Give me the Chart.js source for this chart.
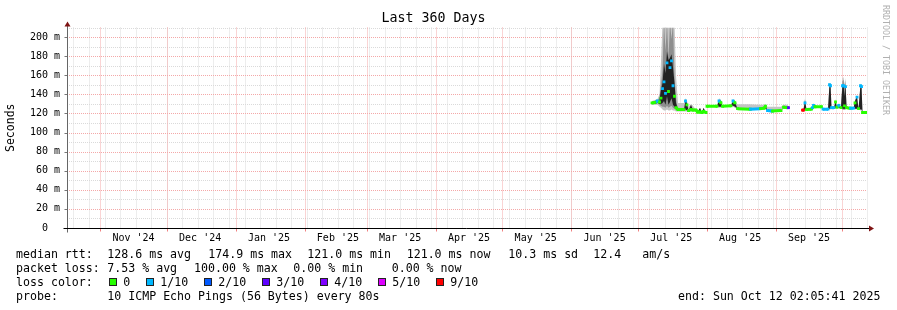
<!DOCTYPE html>
<html>
<head>
<meta charset="utf-8">
<title>Last 360 Days</title>
<script src="https://cdn.jsdelivr.net/npm/chart.js@4.4.1/dist/chart.umd.min.js"></script>
<style>
  html, body { margin: 0; padding: 0; background: #fff; }
  #wrap { position: relative; width: 897px; height: 310px; overflow: hidden;
          font-family: "DejaVu Sans Mono", monospace; color: #000; }
  #chart { position: absolute; left: 0; top: 0; }
  .t { position: absolute; font-size: 11.6px; line-height: 14px; white-space: pre; }
  .box { position: absolute; top: 278px; width: 8px; height: 8px; box-sizing: border-box; border: 1px solid #222; }
  #credit { position: absolute; left: 880px; top: 5px; writing-mode: vertical-rl;
            font-size: 8.3px; line-height: 12px; color: #b0b0b0; white-space: pre; }
</style>
</head>
<body>
<div id="wrap">
  <canvas id="chart" width="897" height="310"></canvas>
  <div id="credit">RRDTOOL / TOBI OETIKER</div>

  <div class="t" style="left:16px;top:247px">median rtt:</div>
  <div class="t" style="left:107.3px;top:247px">128.6 ms avg</div>
  <div class="t" style="left:208.3px;top:247px">174.9 ms max</div>
  <div class="t" style="left:307.3px;top:247px">121.0 ms min</div>
  <div class="t" style="left:406.7px;top:247px">121.0 ms now</div>
  <div class="t" style="left:508.3px;top:247px">10.3 ms sd</div>
  <div class="t" style="left:593.3px;top:247px">12.4</div>
  <div class="t" style="left:642.3px;top:247px">am/s</div>

  <div class="t" style="left:16px;top:261px">packet loss:</div>
  <div class="t" style="left:107.3px;top:261px">7.53 % avg</div>
  <div class="t" style="left:194px;top:261px">100.00 % max</div>
  <div class="t" style="left:293.3px;top:261px">0.00 % min</div>
  <div class="t" style="left:391.7px;top:261px">0.00 % now</div>

  <div class="t" style="left:16px;top:275px">loss color:</div>
  <div id="lossLegend"></div>

  <div class="t" style="left:16px;top:289px">probe:</div>
  <div class="t" style="left:107.3px;top:289px">10 ICMP Echo Pings (56 Bytes) every 80s</div>
  <div class="t" style="left:678px;top:289px">end: Sun Oct 12 02:05:41 2025</div>
</div>

<script>
// x = days since the start of the 360 day window
const days = [
  263.25, 264.6, 265.73, 266.63, 267.3, 267.98, 268.65, 269.33, 270.0, 270.68,
  271.35, 272.03, 272.7, 273.38, 274.05, 274.95, 277.65, 278.33, 279.0, 279.68,
  280.8, 281.7, 283.05, 283.73, 284.85, 285.75, 286.43, 287.55, 288.0, 292.5,
  293.4, 294.3, 294.98, 298.8, 299.7, 300.6, 301.73, 307.35, 307.58, 311.85,
  312.08, 313.65, 314.33, 315.23, 317.25, 317.48, 321.3, 322.43, 324.23, 324.68,
  327.6, 330.98, 331.43, 332.1, 332.78, 335.03, 335.48, 335.93, 336.6, 339.53,
  340.2, 342.45, 343.13, 343.58, 344.03, 345.15, 345.83, 346.5, 347.4, 348.3,
  348.98, 349.43, 349.88, 350.33, 350.78, 352.35, 352.58, 353.93, 354.6, 355.5,
  356.18, 357.08, 357.53, 357.98, 360.0
];

// median rtt in ms
const medianMs = [
  131, 131.5, 133, 132, 136, 146, 153, 141, 173, 143,
  168, 175, 149, 138, 126, 124, 124, 133, 129, 123,
  124, 123.5, 123.5, 121.5, 121.5, 121, 122, 121, 127.5, 127.5,
  133, 131, 127.5, 128, 133, 131, 125, 124.5, 124.5, 125,
  125, 125.5, 127.5, 123, 122.5, 122.5, 123, 126.5, 126, 126,
  null, 123.5, 123.5, 131, 124, 124.5, 126, 128.5, 127, 127,
  124.5, 124.5, 150, 149, 126, 126, 132, 126.5, 128.5, 126,
  149, 149, 128, 148, 126, 125.5, 125.5, 125.5, 131, 137,
  125, 149, 148, 121, 121
];

// lost pings out of 10
const lossLevel = [
  0, 0, 1, 0, 0, 1, 1, 1, 1, 0,
  1, 1, 1, 0, 0, 0, 0, 1, 0, 0,
  0, 0, 0, 0, 0, 0, 0, 0, 0, 0,
  1, 0, 0, 0, 1, 0, 0, 0, 1, 1,
  0, 0, 0, 1, 1, 0, 0, 0, 0, 3,
  null, 9, 9, 1, 0, 0, 1, 1, 0, 0,
  1, 1, 1, 1, 1, 1, 0, 0, 1, 0,
  1, 1, 0, 1, 0, 0, 1, 1, 0, 1,
  0, 1, 1, 0, 0
];

// smoke bands (ms), null = no spread around the median
const smokeInnerLo = [
  null, 130, 131, 130, 130, 131, 133, 129, 138, 129,
  132, 136, 129, 127, 124, null, null, 124, 123, null,
  123, null, null, null, 121, null, 121, null, null, null,
  127, 127, null, null, 128, 127, null, null, null, null,
  null, null, 125, null, null, null, null, null, null, null,
  null, null, null, 124, null, null, null, 126, null, null,
  null, null, 125, 125, null, null, 126, null, 126, null,
  125, 125, 125, 125, null, null, null, null, 125, 125,
  null, 124, 124, null, null
];
const smokeInnerHi = [
  null, 133, 134, 134, 145, 152, 172, 162, 185, 176,
  178, 182, 168, 152, 131, null, null, 134, 131, null,
  129, null, null, null, 126, null, 126, null, null, null,
  134, 133, null, null, 134, 132, null, null, null, null,
  null, null, 128, null, null, null, null, null, null, null,
  null, null, null, 134, null, null, null, 130, null, null,
  null, null, 151, 150, null, null, 133, null, 130, null,
  150, 150, 138, 150, null, null, null, null, 133, 138,
  null, 150, 149, null, null
];
const smokeMidLo = [
  null, null, null, 129, 128, 127, 127, 126, 128, 126,
  127, 128, 126, 125, 124, null, null, null, null, null,
  null, null, null, null, null, null, null, null, null, null,
  null, null, null, null, null, null, null, null, null, null,
  null, null, null, null, null, null, null, null, null, null,
  null, null, null, null, null, null, null, null, null, null,
  null, null, null, null, null, null, null, null, null, null,
  124, 124, 124, 124, null, null, null, null, null, null,
  null, null, null, null, null
];
const smokeMidHi = [
  null, null, null, 137, 150, 165, 215, 185, 215, 178,
  215, 198, 215, 158, 135, null, null, null, null, null,
  null, null, null, null, null, null, null, null, null, null,
  null, null, null, null, null, null, null, null, null, null,
  null, null, null, null, null, null, null, null, null, null,
  null, null, null, null, null, null, null, null, null, null,
  null, null, null, null, null, null, null, null, null, null,
  154, 155, 146, 154, null, null, null, null, null, null,
  null, null, null, null, null
];
const smokeOuterLo = [
  129, 129, 129, 127, 126, 124, 123, 123, 124, 123,
  123, 124, 123, 123, 122, 122, 122, 122, 122, 122,
  122, 122, null, null, null, null, null, null, null, null,
  126, 126, null, null, 127, 126, 124, 124, 124, 124,
  124, 124, 124, 122, 122, 122, 122, 125, 125, null,
  null, null, 123, 123, null, null, null, 125, null, null,
  null, null, 124, 124, null, null, 125, null, 125, null,
  124, 124, 124, 124, null, null, null, null, 124, 124,
  null, 123, 123, null, null
];
const smokeOuterHi = [
  133, 134, 135, 140, 175, 215, 215, 215, 215, 215,
  215, 215, 215, 215, 160, 131, 131, 136, 133, 127,
  130, 128, null, null, null, null, null, null, null, null,
  136, 134, null, null, 135, 133, 129.5, 129.5, 129.5, 129,
  129, 129, 130, 127, 127, 127, 127, 129, 129, null,
  null, null, 126, 136, null, null, null, 131, null, null,
  null, null, 152, 151, null, null, 135, null, 131, null,
  157, 158, 150, 157, null, null, null, null, 134, 139,
  null, 151, 150, null, null
];

const monthLabels = ["Nov '24", "Dec '24", "Jan '25", "Feb '25", "Mar '25", "Apr '25",
                     "May '25", "Jun '25", "Jul '25", "Aug '25", "Sep '25"];
const yTicks = [0, 20, 40, 60, 80, 100, 120, 140, 160, 180, 200];

const lossSteps  = [0, 1, 2, 3, 4, 5, 9];
const lossLabels = ['0', '1/10', '2/10', '3/10', '4/10', '5/10', '9/10'];
const lossColors = ['#26ff00', '#00b8ff', '#0059ff', '#5e00ff', '#7e00ff', '#dd00ff', '#ff0000'];

const FONT = '"DejaVu Sans Mono", monospace';
const START = new Date(2024, 9, 17, 2, 5, 41);
const dayOf = d => (d - START) / 86400000;

const monthStarts = [];
for (let m = 10; m <= 21; m++) monthStarts.push(dayOf(new Date(2024, m, 1)));
const weekStarts = [];
for (let d = dayOf(new Date(2024, 9, 20)); d < 360; d += 7) weekStarts.push(d);

const colorFor = l => lossColors[lossSteps.indexOf(l)];
const orMedian = arr => arr.map((v, i) => (v === null ? medianMs[i] : v));
const pts = arr => days.map((d, i) => ({ x: d, y: arr[i] }));

// loss colour legend
(function () {
  const el = document.getElementById('lossLegend');
  let x = 108.7;
  lossLabels.forEach((lbl, i) => {
    const b = document.createElement('div');
    b.className = 'box';
    b.style.left = x + 'px';
    b.style.background = lossColors[i];
    el.appendChild(b);
    const t = document.createElement('div');
    t.className = 't';
    t.style.left = (x + 14.5) + 'px';
    t.style.top = '275px';
    t.textContent = lbl;
    el.appendChild(t);
    x += 14.5 + lbl.length * 7 + 15.5;
  });
})();

const band = (data, color, target, order) => ({
  data: pts(data), borderWidth: 0, borderColor: 'transparent', pointRadius: 0,
  backgroundColor: color, fill: target === null ? false : { target: target },
  order: order, spanGaps: false
});

const gridPlugin = {
  id: 'rrdGrid',
  beforeDatasetsDraw(chart) {
    const { ctx, chartArea: a, scales: { x, y } } = chart;
    const px = v => Math.round(x.getPixelForValue(v)) + 0.5;
    const py = v => Math.round(y.getPixelForValue(v)) + 0.5;
    ctx.save();
    ctx.lineWidth = 1;
    ctx.setLineDash([1, 1]);
    ctx.strokeStyle = '#dadada';
    ctx.beginPath();
    weekStarts.forEach(d => { if (d > 0) { ctx.moveTo(px(d), a.top); ctx.lineTo(px(d), a.bottom); } });
    for (let v = 10; v <= 210; v += 20) { ctx.moveTo(a.left, py(v)); ctx.lineTo(a.right, py(v)); }
    ctx.stroke();
    ctx.strokeStyle = '#f4a8a8';
    ctx.beginPath();
    monthStarts.forEach(d => { ctx.moveTo(px(d), a.top); ctx.lineTo(px(d), a.bottom); });
    for (let v = 20; v <= 200; v += 20) { ctx.moveTo(a.left, py(v)); ctx.lineTo(a.right, py(v)); }
    ctx.stroke();
    ctx.restore();
  },
  afterDatasetsDraw(chart) {
    const { ctx, chartArea: a, scales: { x, y } } = chart;
    const px = v => Math.round(x.getPixelForValue(v)) + 0.5;
    const py = v => Math.round(y.getPixelForValue(v)) + 0.5;
    const x0 = Math.round(a.left) + 0.5;
    const y0 = py(0);
    ctx.save();
    ctx.lineWidth = 1;
    ctx.strokeStyle = '#777';
    ctx.beginPath();
    for (let v = 20; v <= 200; v += 20) { ctx.moveTo(x0 - 3, py(v)); ctx.lineTo(x0, py(v)); }
    ctx.stroke();
    ctx.strokeStyle = '#f08080';
    ctx.beginPath();
    monthStarts.forEach(d => { ctx.moveTo(px(d), y0); ctx.lineTo(px(d), y0 + 3); });
    ctx.stroke();
    // axes
    ctx.strokeStyle = '#666';
    ctx.beginPath();
    ctx.moveTo(x0, y0 + 4); ctx.lineTo(x0, a.top - 2);
    ctx.stroke();
    ctx.strokeStyle = '#000';
    ctx.beginPath();
    ctx.moveTo(x0 - 4, y0); ctx.lineTo(a.right + 2, y0);
    ctx.stroke();
    // arrows
    ctx.fillStyle = '#7f1414';
    ctx.beginPath();
    ctx.moveTo(x0, a.top - 6); ctx.lineTo(x0 - 3, a.top - 1); ctx.lineTo(x0 + 3, a.top - 1);
    ctx.closePath(); ctx.fill();
    ctx.beginPath();
    ctx.moveTo(a.right + 7, y0); ctx.lineTo(a.right + 2, y0 - 3); ctx.lineTo(a.right + 2, y0 + 3);
    ctx.closePath(); ctx.fill();
    ctx.restore();
  }
};

new Chart(document.getElementById('chart'), {
  type: 'line',
  data: {
    datasets: [
      band(orMedian(smokeOuterLo), 'transparent', null, 6),
      band(orMedian(smokeOuterHi), '#c4c4c4', 0, 5),
      band(orMedian(smokeMidLo), 'transparent', null, 4),
      band(orMedian(smokeMidHi), '#8e8e8e', 2, 3),
      band(orMedian(smokeInnerLo), 'transparent', null, 2),
      band(orMedian(smokeInnerHi), '#222222', 4, 1),
      {
        data: pts(medianMs),
        borderWidth: 3,
        borderColor: 'transparent',
        borderCapStyle: 'butt',
        segment: {
          // smokeping draws the median as short blocks, no vertical joins
          borderColor: c => {
            const i = c.p0DataIndex, j = c.p1DataIndex;
            if (Math.abs(medianMs[i] - medianMs[j]) > 2) return 'transparent';
            return colorFor(lossLevel[j]);
          }
        },
        pointRadius: 2,
        pointStyle: 'rect',
        pointBorderWidth: 0,
        pointBackgroundColor: lossLevel.map(colorFor),
        fill: false,
        spanGaps: false,
        order: 0
      }
    ]
  },
  options: {
    responsive: false,
    animation: false,
    devicePixelRatio: 1,
    events: [],
    layout: { padding: { left: 0, right: 30, top: 0, bottom: 0 } },
    plugins: {
      legend: { display: false },
      tooltip: { enabled: false },
      title: {
        display: true,
        text: 'Last 360 Days',
        color: '#000',
        font: { family: FONT, size: 13.3, weight: 'normal' },
        padding: { top: 11, bottom: 0.54 }
      }
    },
    scales: {
      x: {
        type: 'linear',
        min: 0,
        max: 360,
        grid: { display: false, drawTicks: false },
        border: { display: false },
        afterBuildTicks: s => { s.ticks = monthLabels.map((_, i) => ({ value: monthStarts[i] + 15 })); },
        afterFit: s => { s.height = 82; },
        ticks: {
          autoSkip: false,
          maxRotation: 0,
          padding: 4,
          color: '#000',
          font: { family: FONT, size: 10 },
          callback: (v, i) => monthLabels[i]
        }
      },
      y: {
        min: 0,
        max: 210,
        grid: { display: false, drawTicks: false },
        border: { display: false },
        afterBuildTicks: s => { s.ticks = yTicks.map(v => ({ value: v })); },
        afterFit: s => { s.width = 67; },
        ticks: {
          padding: 7,
          color: '#000',
          font: { family: FONT, size: 10 },
          callback: v => (v === 0 ? '0  ' : v + ' m')
        },
        title: {
          display: true,
          text: 'Seconds',
          color: '#000',
          font: { family: FONT, size: 11.5 },
          padding: { top: 4, bottom: 0 }
        }
      }
    }
  },
  plugins: [gridPlugin]
});
</script>
</body>
</html>
